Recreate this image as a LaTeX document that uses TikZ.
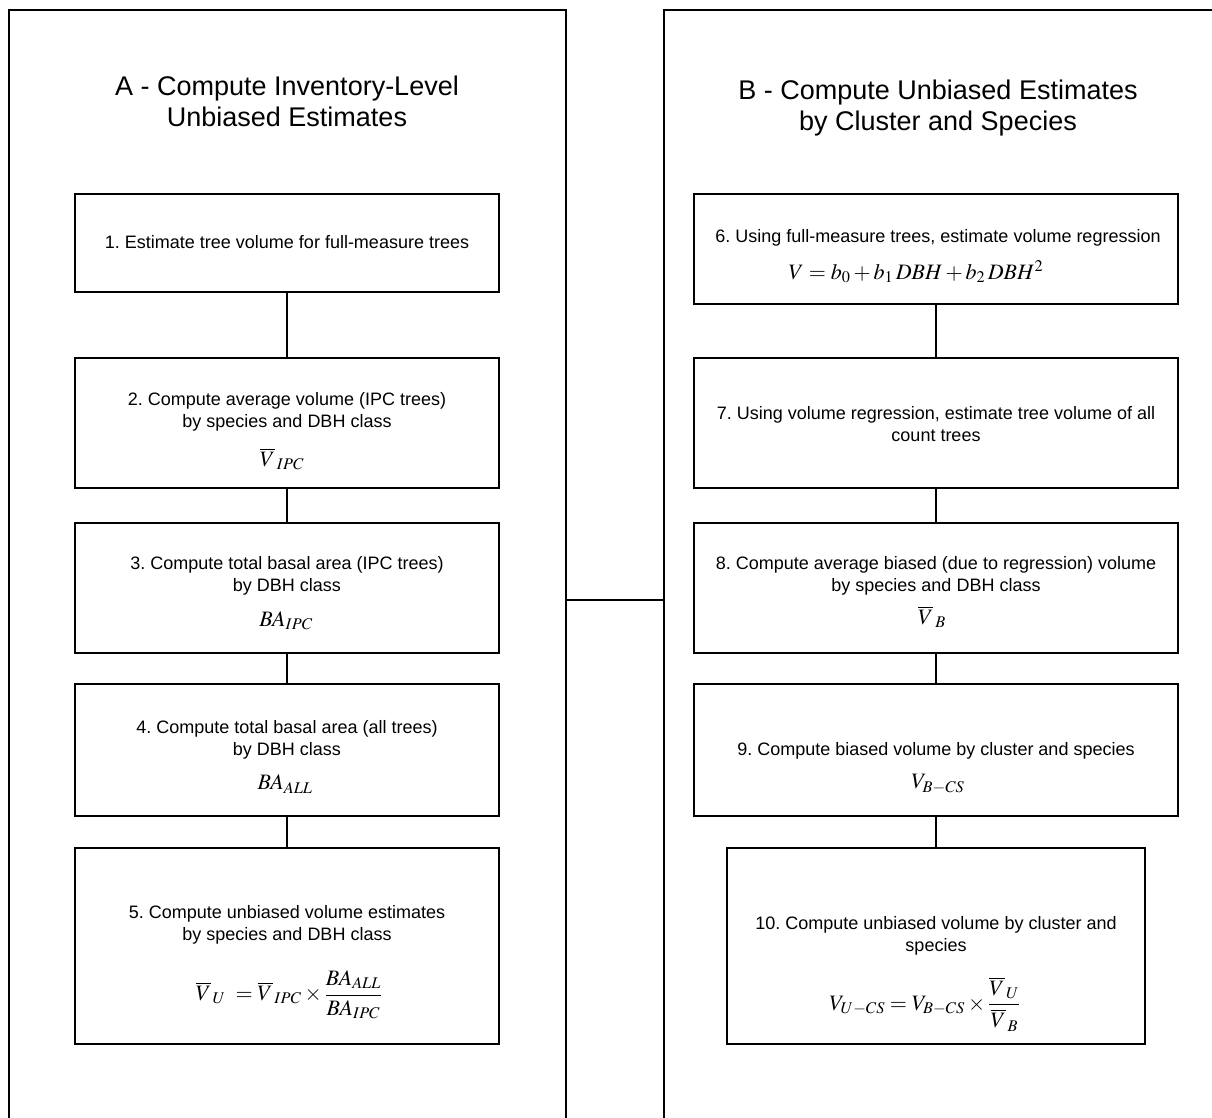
\documentclass[tikz,border=0pt]{standalone}
\usepackage{mathptmx}
\usepackage[no-math]{fontspec}
\setmainfont{Liberation Sans}
\frenchspacing
\begin{document}
\begin{tikzpicture}[x=1pt,y=-1pt,
  panel/.style={draw, line width=1.6pt, anchor=north west, inner sep=0pt, outer sep=0pt},
  box/.style={draw, line width=1.6pt, anchor=north west, inner sep=0pt, outer sep=0pt},
  title/.style={align=center, inner sep=0pt, font=\fontsize{27}{31}\selectfont},
  txt/.style={align=center, inner sep=0pt, font=\fontsize{18}{22}\selectfont},
  fml/.style={inner sep=0pt, font=\fontsize{22}{26}\selectfont},
  link/.style={line width=1.6pt}]
\useasboundingbox (0,0) rectangle (1212,1118);
\clip (0,0) rectangle (1212,1118);
% panels
\node[panel, minimum width=557pt, minimum height=1200pt] (pA) at (9,10) {};
\node[panel, minimum width=700pt, minimum height=1200pt] (pB) at (664,10) {};
\coordinate (mid) at (615,600);
\draw[link] (mid -| pA.east) -- (mid -| pB.west);
% boxes left
\node[box, minimum width=424pt, minimum height=98pt]  (b1) at (75,194) {};
\node[box, minimum width=424pt, minimum height=130pt] (b2) at (75,358) {};
\node[box, minimum width=424pt, minimum height=130pt] (b3) at (75,523) {};
\node[box, minimum width=424pt, minimum height=132pt] (b4) at (75,684) {};
\node[box, minimum width=424pt, minimum height=196pt] (b5) at (75,848) {};
% boxes right
\node[box, minimum width=484pt, minimum height=110pt] (b6) at (694,194) {};
\node[box, minimum width=484pt, minimum height=130pt] (b7) at (694,358) {};
\node[box, minimum width=484pt, minimum height=130pt] (b8) at (694,523) {};
\node[box, minimum width=484pt, minimum height=132pt] (b9) at (694,684) {};
\node[box, minimum width=418pt, minimum height=196pt] (b10) at (727,848) {};
% connectors
\draw[link] (b1.south) -- (b2.north);
\draw[link] (b2.south) -- (b3.north);
\draw[link] (b3.south) -- (b4.north);
\draw[link] (b4.south) -- (b5.north);
\draw[link] (b6.south) -- (b7.north);
\draw[link] (b7.south) -- (b8.north);
\draw[link] (b8.south) -- (b9.north);
\draw[link] (b9.south) -- (b10.north);
% titles
\node[title] (tA) at (287,101) {A - Compute Inventory-Level\\Unbiased Estimates};
\node[title] (tB) at (938,108) {B - Compute Unbiased Estimates\\by Cluster and Species};
% texts
\node[txt] (t1) at (287,242) {1. Estimate tree volume for full-measure trees};
\node[txt] (t2) at (287,412) {2. Compute average volume (IPC trees)\\by species and DBH class};
\node[fml] (f2) at (282,459) {$\overline{V}_{\,IPC}$};
\node[txt] (t3) at (287,576) {3. Compute total basal area (IPC trees)\\by DBH class};
\node[fml] (f3) at (286,621) {$BA_{IPC}$};
\node[txt] (t4) at (287,740) {4. Compute total basal area (all trees)\\by DBH class};
\node[fml] (f4) at (285,784) {$BA_{ALL}$};
\node[txt] (t5) at (287,925) {5. Compute unbiased volume estimates\\by species and DBH class};
\node[fml] (f5) at (289,995) {$\displaystyle \overline{V}_{\,U}\;=\overline{V}_{\,IPC}\times\frac{BA_{ALL}}{BA_{IPC}}$};
\node[txt] (t6) at (938,238) {6. Using full-measure trees, estimate volume regression};
\node[fml] (f6) at (916,272) {$V=b_0+b_1\,DBH+b_2\,DBH^2$};
\node[txt] (t7) at (936,424) {7. Using volume regression, estimate tree volume of all\\count trees};
\node[txt] (t8) at (936,576) {8. Compute average biased (due to regression) volume\\by species and DBH class};
\node[fml] (f8) at (932,617) {$\overline{V}_{\,B}$};
\node[txt] (t9) at (936,751) {9. Compute biased volume by cluster and species};
\node[fml] (f9) at (938,784) {$V_{B-CS}$};
\node[txt] (t10) at (936,936) {10. Compute unbiased volume by cluster and\\species};
\node[fml] (f10) at (925,1004) {$\displaystyle V_{U-CS}=V_{B-CS}\times\frac{\overline{V}_{\,U}\rule[-4pt]{0pt}{4pt}}{\rule{0pt}{20pt}\overline{V}_{\,B}}$};
\end{tikzpicture}
\end{document}
